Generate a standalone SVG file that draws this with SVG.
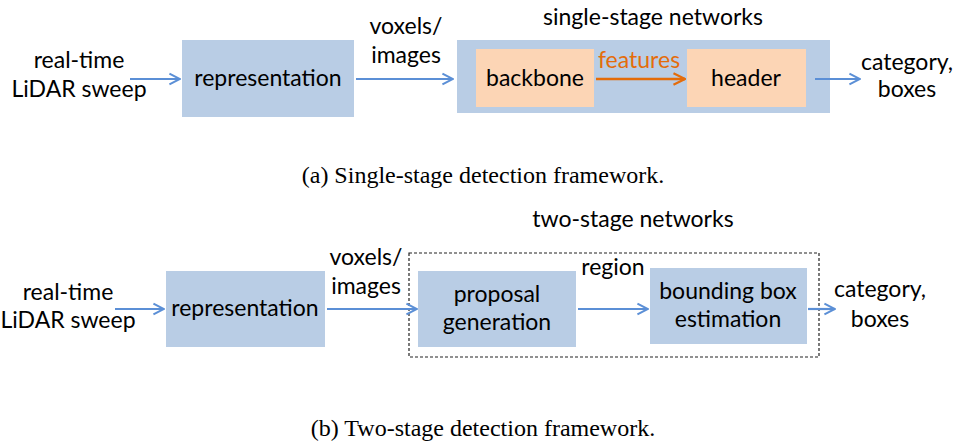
<svg xmlns="http://www.w3.org/2000/svg" width="967" height="443" viewBox="0 0 967 443">
<defs>
<style>
.lbl{font-family:Lato,"Open Sans","Liberation Sans",sans-serif;font-size:23px;fill:#000;text-anchor:middle}
.cap{font-family:"Liberation Serif","Times New Roman",serif;font-size:24px;fill:#000;text-anchor:middle}
.blue{fill:#b9cde5}
.orange{fill:#fcd5b5}
.ab{stroke:#5b8fd6;stroke-width:2.2;fill:none;marker-end:url(#mb)}
.ao{stroke:#e46c0a;stroke-width:2.4;fill:none;marker-end:url(#mo)}
</style>
<marker id="mb" viewBox="0 0 10 10" refX="9" refY="5" markerWidth="6" markerHeight="6" orient="auto" markerUnits="strokeWidth">
<path d="M1,1 L9,5 L1,9" fill="none" stroke="#5b8fd6" stroke-width="1.5"/>
</marker>
<marker id="mo" viewBox="0 0 10 10" refX="9" refY="5" markerWidth="6" markerHeight="6" orient="auto" markerUnits="strokeWidth">
<path d="M1,1 L9,5 L1,9" fill="none" stroke="#e46c0a" stroke-width="1.5"/>
</marker>
</defs>
<rect width="967" height="443" fill="#fff"/>

<!-- (a) -->
<g id="a-input">
<text class="lbl" x="79" y="68">real-time</text>
<text class="lbl" x="79" y="97">LiDAR sweep</text>
</g>
<g id="a-representation">
<rect class="blue" x="182" y="40" width="172" height="77"/>
<text class="lbl" x="268" y="86">representation</text>
</g>
<g id="a-voxels">
<text class="lbl" x="406" y="34">voxels/</text>
<text class="lbl" x="406" y="63">images</text>
</g>
<g id="a-single-stage">
<text class="lbl" x="653" y="25">single-stage networks</text>
<rect class="blue" x="457" y="40" width="373" height="73"/>
</g>
<g id="a-backbone">
<rect class="orange" x="476" y="49" width="118" height="58"/>
<text class="lbl" x="535" y="86">backbone</text>
</g>
<g id="a-header">
<rect class="orange" x="687" y="49" width="119" height="58"/>
<text class="lbl" x="746" y="86">header</text>
</g>
<g id="a-output">
<text class="lbl" x="907" y="70">category,</text>
<text class="lbl" x="907" y="97">boxes</text>
</g>
<g id="a-connectors">
<line class="ab" x1="130" y1="79" x2="180" y2="79"/>
<line class="ab" x1="356" y1="79" x2="453" y2="79"/>
<line class="ao" x1="596" y1="79" x2="685" y2="79"/>
<text class="lbl" x="639" y="68" style="fill:#e46c0a">features</text>
<line class="ab" x1="815" y1="79" x2="860" y2="79"/>
</g>
<text class="cap" x="483" y="183">(a) Single-stage detection framework.</text>

<!-- (b) -->
<g id="b-input">
<text class="lbl" x="68" y="300">real-time</text>
<text class="lbl" x="68" y="328">LiDAR sweep</text>
</g>
<g id="b-representation">
<rect class="blue" x="166" y="271" width="159" height="76"/>
<text class="lbl" x="245" y="316">representation</text>
</g>
<g id="b-voxels">
<text class="lbl" x="366" y="265">voxels/</text>
<text class="lbl" x="366" y="294">images</text>
</g>
<g id="b-two-stage">
<text class="lbl" x="633" y="227">two-stage networks</text>
<rect x="409" y="253" width="410" height="104" fill="none" stroke="#222" stroke-width="1.2" stroke-dasharray="3,2"/>
</g>
<g id="b-proposal">
<rect class="blue" x="418" y="271" width="158" height="76"/>
<text class="lbl" x="497" y="302">proposal</text>
<text class="lbl" x="497" y="330">generation</text>
</g>
<g id="b-bbox">
<rect class="blue" x="650" y="268" width="157" height="76"/>
<text class="lbl" x="728" y="299">bounding box</text>
<text class="lbl" x="728" y="327">estimation</text>
</g>
<g id="b-output">
<text class="lbl" x="880" y="297">category,</text>
<text class="lbl" x="880" y="327">boxes</text>
</g>
<g id="b-connectors">
<line class="ab" x1="115" y1="309" x2="164" y2="309"/>
<line class="ab" x1="327" y1="309" x2="417" y2="309"/>
<line class="ab" x1="578" y1="309" x2="648" y2="309"/>
<text class="lbl" x="613" y="275">region</text>
<line class="ab" x1="808" y1="309" x2="835" y2="309"/>
</g>
<text class="cap" x="483" y="436">(b) Two-stage detection framework.</text>
</svg>
